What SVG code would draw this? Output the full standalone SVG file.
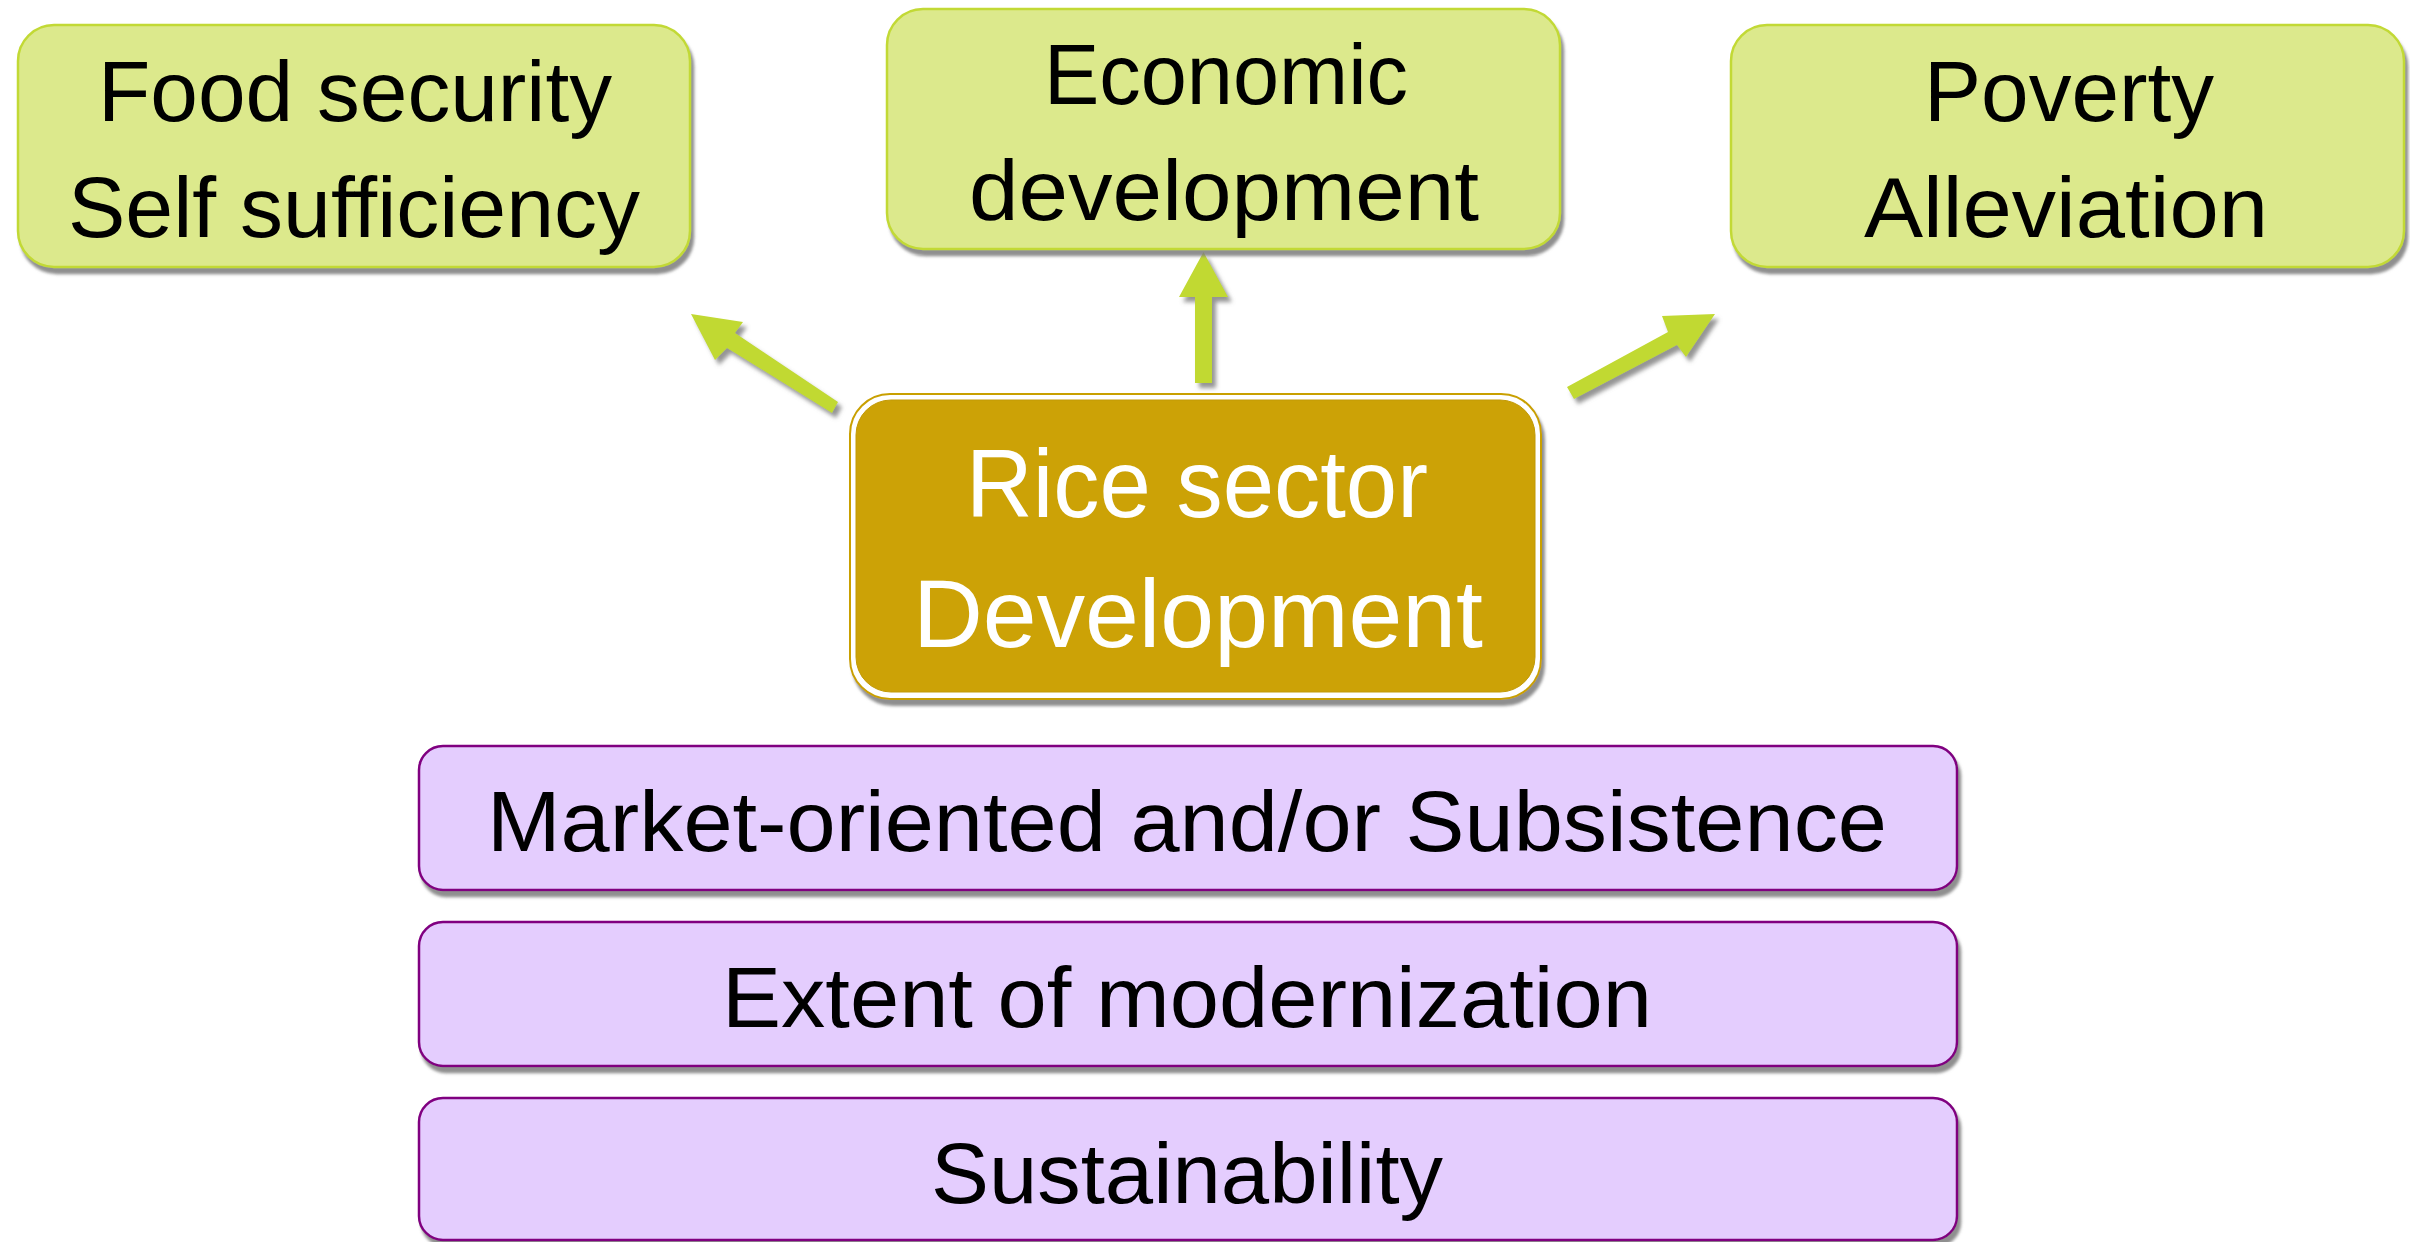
<svg xmlns="http://www.w3.org/2000/svg" width="2410" height="1242" viewBox="0 0 2410 1242">
  <defs>
    <filter id="sh" x="-10%" y="-10%" width="130%" height="140%">
      <feDropShadow dx="3" dy="6" stdDeviation="1.8" flood-color="#7a7a7a" flood-opacity="0.85"/>
    </filter>
    <filter id="ash" x="-20%" y="-20%" width="150%" height="150%">
      <feDropShadow dx="4" dy="5" stdDeviation="2" flood-color="#7a7a7a" flood-opacity="0.8"/>
    </filter>
  </defs>
  <style>
    .green { fill: #DCE98C; stroke: #C2D936; stroke-width: 2.5; }
    .purple { fill: #E4CDFE; stroke: #800080; stroke-width: 2.5; }
    .arrow { fill: #C1D931; }
    .t { font-family: "Liberation Sans", Arial, sans-serif; font-size: 86px; fill: #000; text-anchor: middle; }
    .tw { font-family: "Liberation Sans", Arial, sans-serif; font-size: 96px; fill: #FFFFFF; text-anchor: middle; }
  </style>
  <rect x="0" y="0" width="2410" height="1242" fill="#FFFFFF"/>

  <g id="connectors">
    <polygon class="arrow" filter="url(#ash)" points="691,314 743,322 735,333 838,402 832,413 727,348 715,360"/>
    <polygon class="arrow" filter="url(#ash)" points="1195,383 1195,297 1179,297 1203.5,252 1228,297 1212,297 1212,383"/>
    <polygon class="arrow" filter="url(#ash)" points="1567,387 1668,332 1662,316 1715,314 1686,357 1677,345 1574,399"/>
  </g>

  <g id="node-food">
    <rect class="green" filter="url(#sh)" x="18" y="25" width="672" height="242" rx="36"/>
    <text class="t" x="355" y="121" textLength="514" lengthAdjust="spacingAndGlyphs">Food security</text>
    <text class="t" x="354" y="237" textLength="572" lengthAdjust="spacingAndGlyphs">Self sufficiency</text>
  </g>

  <g id="node-economic">
    <rect class="green" filter="url(#sh)" x="887" y="9" width="673" height="240" rx="36"/>
    <text class="t" x="1226" y="104" textLength="364" lengthAdjust="spacingAndGlyphs">Economic</text>
    <text class="t" x="1224" y="220" textLength="510" lengthAdjust="spacingAndGlyphs">development</text>
  </g>

  <g id="node-poverty">
    <rect class="green" filter="url(#sh)" x="1731" y="25" width="673" height="242" rx="36"/>
    <text class="t" x="2069" y="121" textLength="290" lengthAdjust="spacingAndGlyphs">Poverty</text>
    <text class="t" x="2066" y="237" textLength="404" lengthAdjust="spacingAndGlyphs">Alleviation</text>
  </g>

  <g id="node-rice">
    <rect filter="url(#sh)" x="850" y="394" width="691" height="305" rx="40" fill="#FFFFFF" stroke="#C9A006" stroke-width="2"/>
    <rect x="856" y="400" width="679" height="292" rx="35" fill="#CCA206" stroke="#C29905" stroke-width="1"/>
    <text class="tw" x="1197" y="517" textLength="462" lengthAdjust="spacingAndGlyphs">Rice sector</text>
    <text class="tw" x="1198" y="647" textLength="570" lengthAdjust="spacingAndGlyphs">Development</text>
  </g>

  <g id="node-market">
    <rect class="purple" filter="url(#sh)" x="419" y="746" width="1538" height="144" rx="24"/>
    <text class="t" x="1187" y="851" textLength="1400" lengthAdjust="spacingAndGlyphs">Market-oriented and/or Subsistence</text>
  </g>

  <g id="node-modernization">
    <rect class="purple" filter="url(#sh)" x="419" y="922" width="1538" height="144" rx="24"/>
    <text class="t" x="1187" y="1027" textLength="930" lengthAdjust="spacingAndGlyphs">Extent of modernization</text>
  </g>

  <g id="node-sustainability">
    <rect class="purple" filter="url(#sh)" x="419" y="1098" width="1538" height="142" rx="24"/>
    <text class="t" x="1187" y="1203" textLength="512" lengthAdjust="spacingAndGlyphs">Sustainability</text>
  </g>
</svg>
